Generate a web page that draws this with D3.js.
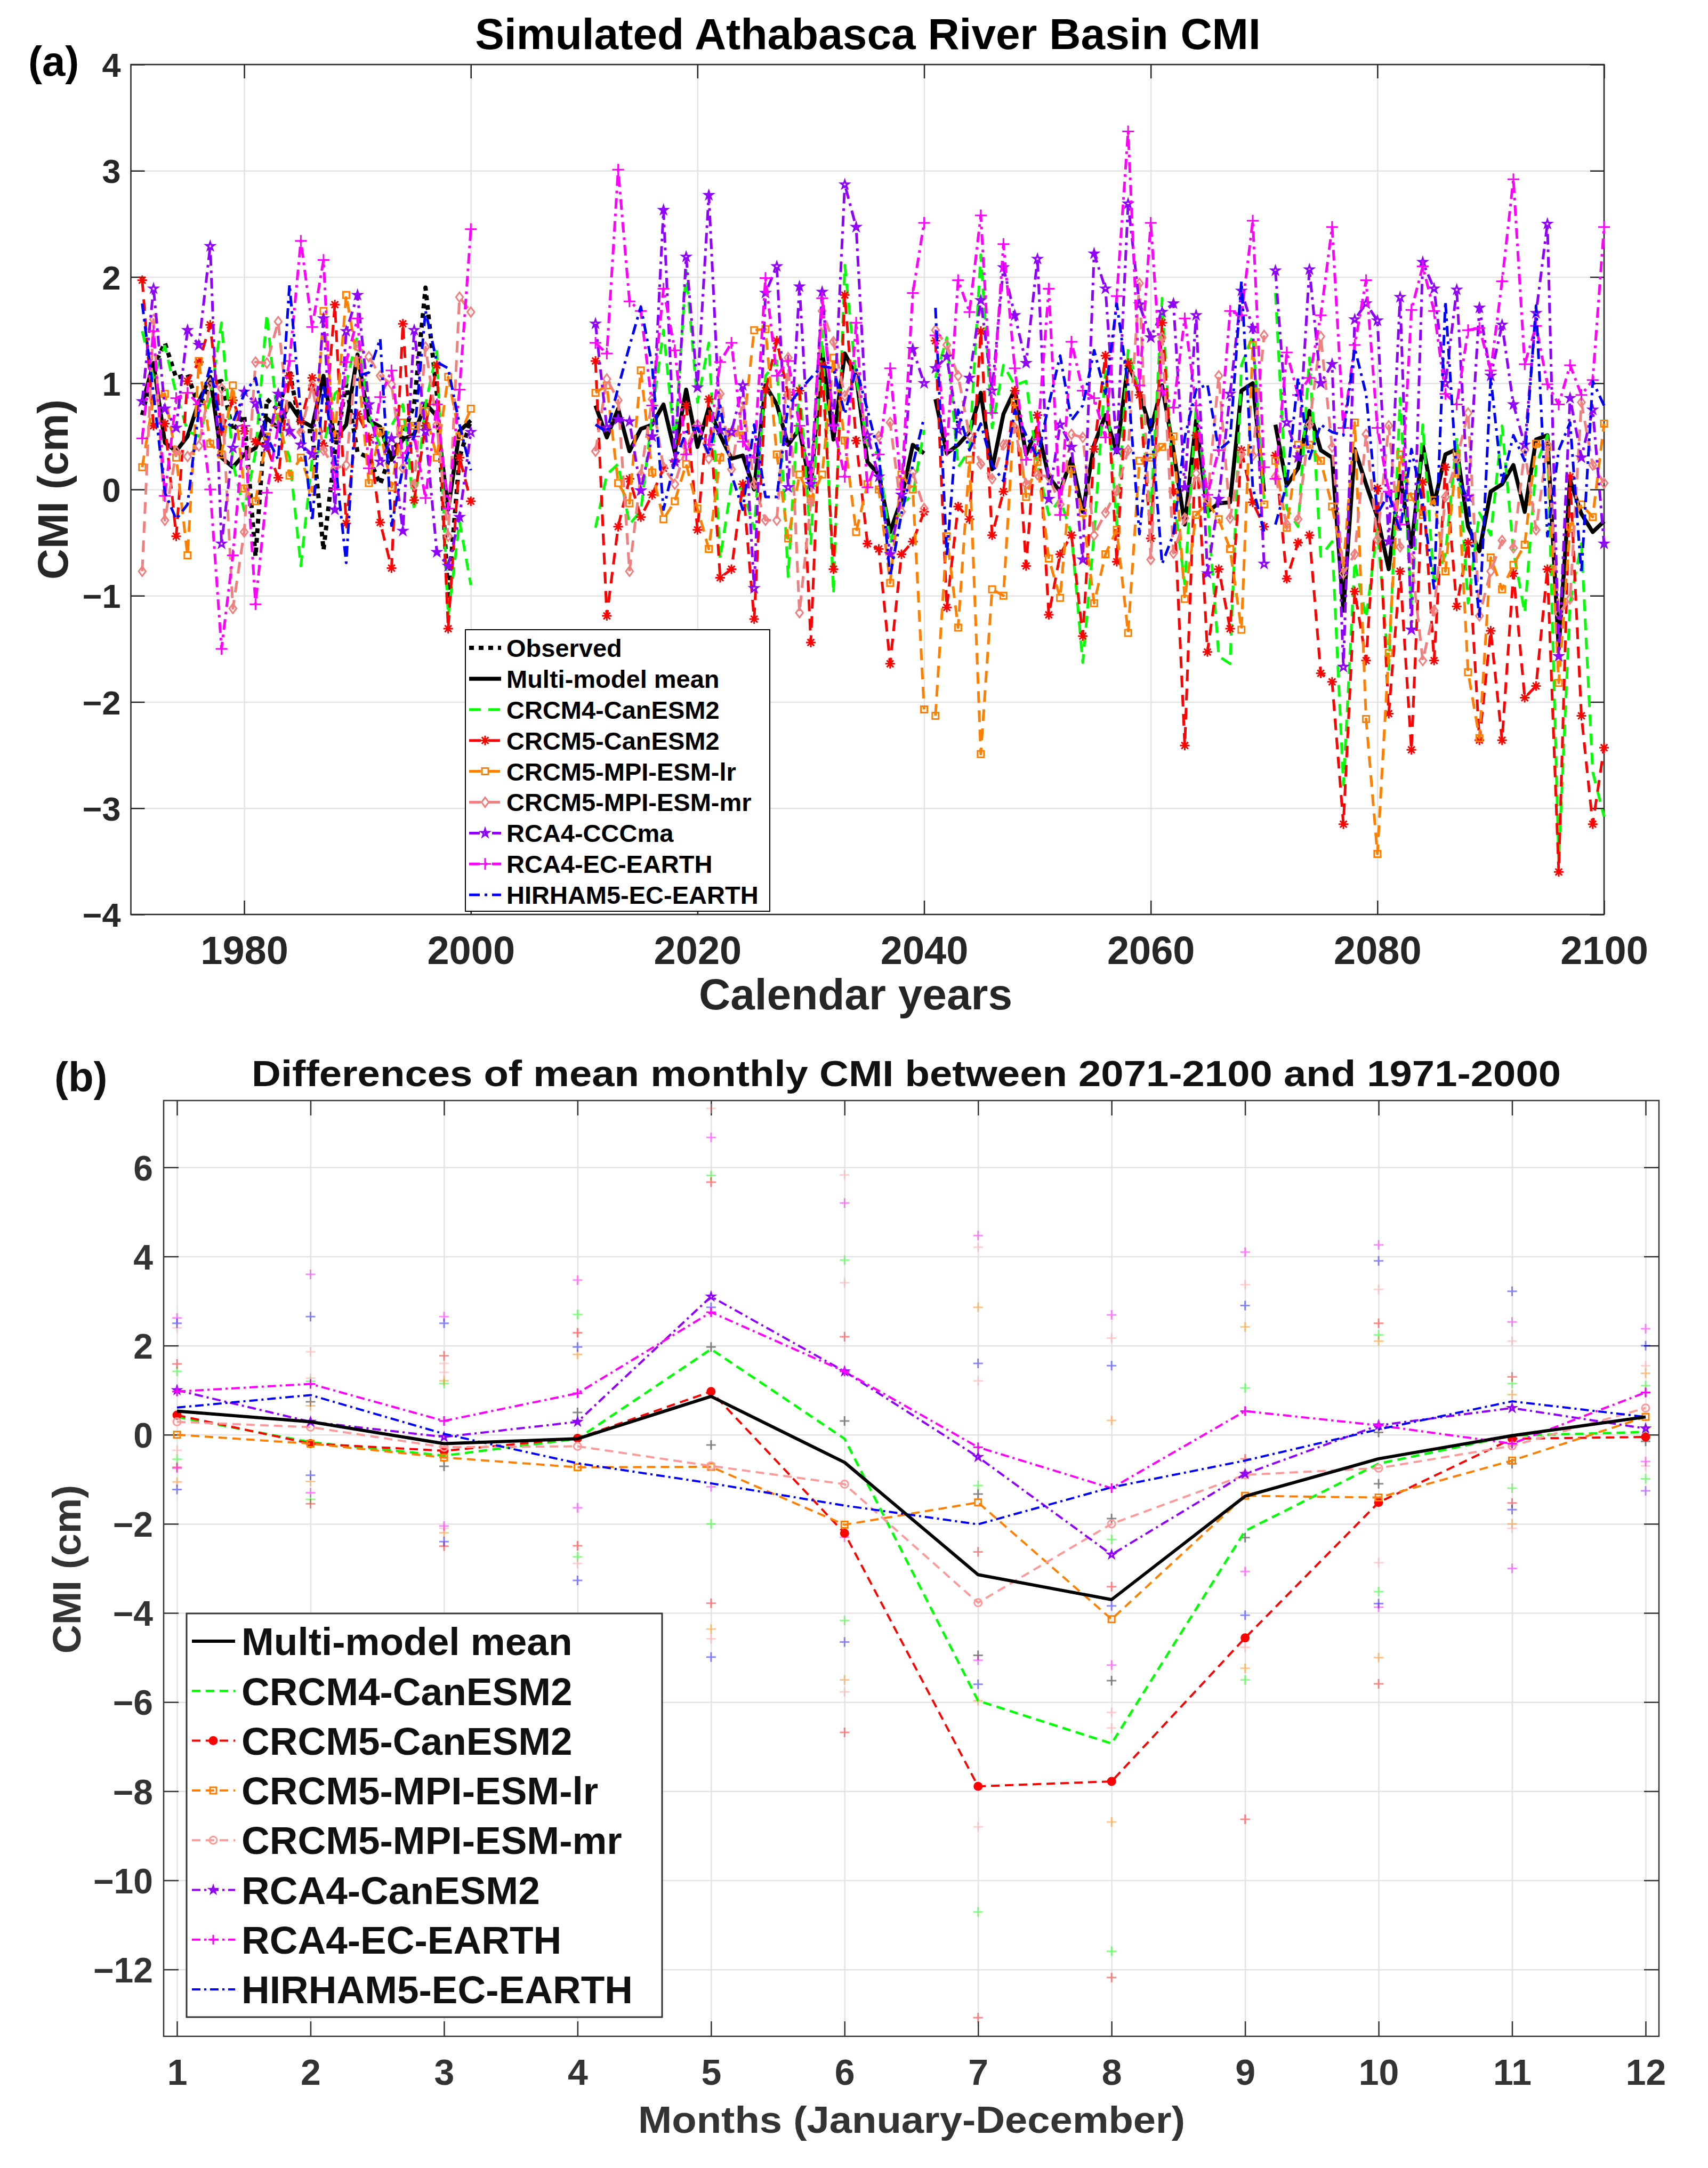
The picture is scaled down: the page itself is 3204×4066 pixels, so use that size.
<!DOCTYPE html>
<html>
<head>
<meta charset="utf-8">
<script src="https://cdn.jsdelivr.net/npm/d3@7"></script>
<style>
  body { margin: 0; background: #fff; }
  svg { display: block; }
  text { font-family: "Liberation Sans", Arial, Helvetica, sans-serif; font-weight: bold; }
</style>
</head>
<body>
<div class="canvas"></div>
<script>
// ---------- data: panel (a), annual CMI (cm) ----------
const yearsHist = d3.range(1971, 2001);
const yearsFut = d3.range(2011, 2101);
const yearsModel = yearsHist.concat(yearsFut);
const periodsA = [[1971, 2000], [2011, 2040], [2041, 2070], [2071, 2100]];
const yearTicks = [1980, 2000, 2020, 2040, 2060, 2080, 2100];
const cmiTicksA = [-4, -3, -2, -1, 0, 1, 2, 3, 4];

const observed = [0.70, 1.15, 1.38, 1.05, 1.08, 0.78, 1.00, 1.02, 0.55, 0.70,
  -0.63, 0.85, 0.75, 1.12, 0.55, 0.55, -0.57, 0.35, 0.99, 0.35,
  0.30, 0.05, 0.35, 0.50, 0.80, 1.90, 0.90, -1.00, 0.30, 0.65];

const meanA = [
  0.80, 1.19, 0.44, 0.36, 0.50, 0.83, 1.06, 0.30, 0.21, 0.33,
  0.39, 0.67, 0.58, 0.81, 0.65, 0.59, 1.07, 0.47, 0.61, 1.27,
  0.65, 0.59, 0.28, 0.47, 0.52, 0.81, 0.69, -0.19, 0.55, 0.65,
  0.79, 0.49, 0.76, 0.36, 0.57, 0.61, 0.80, 0.35, 0.94, 0.40,
  0.77, 0.51, 0.29, 0.32, 0.00, 0.98, 0.80, 0.42, 0.57, 0.00,
  1.31, 0.47, 1.28, 1.07, 0.26, 0.14, -0.40, -0.09, 0.42, 0.34,
  0.85, 0.34, 0.42, 0.54, 0.91, 0.19, 0.71, 0.94, 0.33, 0.58,
  0.12, -0.02, 0.29, -0.21, 0.42, 0.70, 0.35, 1.19, 0.91, 0.56,
  0.98, 0.37, -0.33, 0.65, -0.21, -0.13, -0.12, 0.93, 1.00, -0.02,
  0.61, 0.04, 0.20, 0.74, 0.37, 0.30, -1.14, 0.38, 0.05, -0.26,
  -0.75, 0.13, -0.54, 0.42, -0.14, 0.33, 0.38, -0.35, -0.58, -0.02,
  0.05, 0.23, -0.21, 0.47, 0.51, -1.50, 0.09, -0.23, -0.40, -0.30];

const crcm4A = [
  1.49, 1.05, 1.35, 0.90, 0.55, 0.50, 0.85, 1.57, 0.25, -0.20,
  0.35, 1.65, 0.60, 0.30, -0.72, 0.30, 0.40, 0.90, 1.00, 1.45,
  0.70, 0.40, 0.60, 0.80, -0.20, 0.80, 1.30, -1.20, -0.30, -0.90,
  -0.36, 0.14, 0.24, -0.33, -0.20, 0.70, 1.50, 0.42, 2.06, 0.82,
  1.38, -0.65, 0.05, 0.00, -0.37, 1.07, 1.21, -0.82, 1.00, -0.51,
  1.50, -0.98, 2.11, 1.05, 0.42, 0.33, -0.51, -0.14, -0.05, 0.56,
  1.05, 1.43, 0.21, 0.37, 2.21, 0.58, 1.17, 0.98, 1.02, 0.23,
  -0.24, -0.09, -0.42, -1.63, -0.42, 1.12, -0.33, 1.31, 0.91, -0.23,
  1.80, -0.05, -0.89, 0.79, -0.14, -1.57, -1.64, 1.17, 1.45, -0.09,
  1.85, -0.18, -0.35, 1.24, -0.63, -0.49, -2.78, -0.68, -1.21, -0.37,
  -1.71, 0.86, -1.10, 0.61, -0.89, -0.61, 0.49, -1.07, -0.22, -0.43,
  0.60, -0.58, -1.16, 0.23, 0.51, -3.50, -1.07, -0.51, -2.66, -3.08];

const crcm5CanA = [
  1.97, 0.60, 0.62, -0.44, 1.02, 1.20, 1.55, 0.55, 0.84, 0.55,
  0.45, 0.40, 0.11, 1.07, 0.64, 1.05, 0.41, 1.74, -0.32, 0.71,
  0.49, -0.31, -0.74, 1.56, -0.10, 0.60, 1.17, -1.31, 0.30, -0.11,
  1.21, -1.19, -0.35, 0.10, -0.26, -0.05, 0.20, 0.26, 0.79, -0.38,
  0.85, -0.83, -0.75, 0.05, -1.22, 0.93, 1.40, 0.89, 0.93, -1.44,
  1.17, -0.75, 1.83, 0.46, -0.51, -0.56, -1.64, -0.61, -0.49, -0.21,
  1.40, -1.11, -0.16, -0.28, 1.49, -0.43, -0.02, 0.93, -0.72, 0.70,
  -1.18, -0.61, -0.43, -1.38, 0.38, 1.26, -0.68, 1.19, 0.89, -0.46,
  1.57, -0.02, -2.41, 0.51, -1.53, -0.75, -1.31, 0.37, -0.12, -0.35,
  0.32, -0.84, -0.50, -0.43, -1.73, -1.81, -3.15, -0.96, -1.61, 0.01,
  -2.11, -0.77, -2.45, 0.07, -1.61, 0.21, -1.10, -0.50, -2.36, -1.33,
  -2.36, -0.79, -1.96, -1.85, -0.75, -3.60, 0.12, -2.13, -3.15, -2.43];

const crcm5LrA = [
  0.21, 0.86, 0.90, 0.30, -0.62, 1.21, 0.43, 0.33, 0.98, 0.01,
  -0.11, 0.50, 0.74, 0.13, 0.30, -0.02, 1.68, 0.50, 1.83, 1.21,
  0.06, 0.55, 0.02, 0.63, 0.60, 0.74, 0.30, 1.06, 0.50, 0.76,
  0.91, 0.98, 0.06, -0.13, 1.12, 0.16, -0.28, -0.11, 0.24, -0.18,
  -0.56, 0.30, 0.54, 0.51, 1.50, 1.51, 0.33, -0.46, 0.14, -0.09,
  0.14, 1.24, 0.46, -0.40, 0.05, 0.00, -0.88, 0.14, 0.00, -2.07,
  -2.13, -0.44, -1.30, 0.28, -2.49, -0.94, -1.00, 0.82, -0.07, 0.26,
  -0.65, -1.02, 0.19, -0.22, -1.07, -0.61, -0.38, -1.35, 0.27, 0.30,
  0.40, 0.50, -1.03, -0.24, -0.12, -0.28, -0.56, -1.32, 1.36, -0.14,
  0.27, -0.36, 0.42, 0.42, 0.27, -0.16, -0.72, 0.63, -2.16, -3.43,
  -1.54, 0.33, -0.07, -0.24, -0.10, -0.77, 0.34, -1.72, -2.34, -0.64,
  -0.94, -0.71, -0.52, 0.43, 0.40, -1.82, -0.35, -0.14, -0.26, 0.62];

const crcm5MrA = [
  -0.77, 1.60, -0.29, 0.36, 0.31, 0.41, 1.00, 0.95, -1.12, -0.40,
  1.20, 1.19, 1.58, 0.55, 0.54, 0.98, 0.37, 0.20, 0.23, 1.35,
  1.25, 1.07, 0.99, 0.20, 0.04, 1.34, 0.61, -0.44, 1.81, 1.67,
  0.36, 1.04, 0.84, -0.77, 0.14, 0.85, 0.21, 0.05, 0.40, 0.61,
  0.29, 0.90, 0.19, 0.84, 0.05, -0.29, -0.29, 1.24, -1.16, -0.12,
  1.68, 1.39, 0.88, 1.07, 0.47, 0.50, 0.63, -0.21, 0.16, -0.18,
  1.50, 1.36, 1.07, 0.51, 0.24, 0.10, 0.42, 0.58, 0.05, 0.14,
  0.12, -0.14, 0.52, 0.49, -0.43, -0.22, -0.01, 0.37, 1.94, -0.66,
  1.43, -0.60, -0.27, 0.15, -0.09, 1.07, -0.27, 0.33, 0.32, 1.45,
  0.12, -0.33, -0.28, 0.61, 1.44, 0.40, -0.79, -0.61, 0.52, -0.47,
  0.60, -0.54, -0.65, -1.61, -1.14, -0.07, 0.28, 0.72, -1.19, -0.77,
  -0.48, -0.55, 0.37, -0.38, 0.42, -1.17, -1.03, 0.82, 0.23, 0.06];

const rca4CccA = [
  0.83, 1.89, 0.76, 0.58, 1.50, 1.36, 2.29, -0.51, 0.39, 0.92,
  0.81, 0.40, 0.90, 0.55, 0.42, 0.33, 1.61, -0.19, 1.49, 1.83,
  0.80, 0.26, 0.48, -0.39, 1.50, 0.55, -0.59, -0.72, -0.26, 0.54,
  1.56, 0.58, 0.66, 0.64, -0.01, 0.50, 2.63, 0.26, 2.19, 0.96,
  2.77, 0.56, 0.54, 0.98, -0.93, 1.85, 2.10, 0.02, 1.91, 0.05,
  1.86, 0.60, 2.87, 2.47, 0.51, 0.12, -0.61, -0.05, 1.32, 1.00,
  1.14, 1.25, 0.56, 1.05, 1.78, 0.93, 2.09, 1.64, 1.19, 2.17,
  -0.09, 0.61, 0.40, -0.66, 2.22, 1.89, 0.37, 2.69, 1.74, 1.43,
  1.67, 1.75, 0.02, 1.64, -0.79, -0.09, 0.90, 1.87, 1.52, -0.70,
  2.06, 0.63, 0.30, 2.07, 1.00, 1.18, -1.67, 1.60, 1.75, 1.59,
  -0.49, 1.81, -1.32, 2.14, 1.89, 1.00, 1.88, -0.07, 1.71, 1.07,
  1.55, 0.80, 0.42, 1.66, 2.50, -1.57, 0.86, 0.30, 0.75, -0.51];

const rca4EcA = [
  0.48, 1.49, -0.06, 0.86, 0.91, 0.80, 0.00, -1.50, -0.62, 0.60,
  -1.08, -0.03, 0.60, 1.21, 2.34, 1.53, 2.16, 0.00, 1.20, 1.61,
  0.20, 0.87, 1.12, 0.30, 0.50, -0.08, 0.80, -0.18, 0.94, 2.45,
  1.38, 1.28, 3.01, 1.77, 1.68, 0.79, 1.89, 1.31, 0.33, 0.60,
  0.42, 1.20, 1.38, 0.45, 0.30, 1.99, 1.07, 1.21, 0.60, 0.10,
  1.80, 0.60, 0.12, 1.57, 0.02, 0.33, 1.14, 0.00, 1.85, 2.51,
  1.45, 0.37, 1.97, 1.67, 2.58, 0.72, 2.31, 1.14, 0.28, 0.47,
  1.89, -0.24, 1.39, 0.93, 0.86, 0.49, 1.82, 3.37, 0.98, 2.51,
  0.93, 0.77, 1.61, 0.79, -0.05, 0.37, 1.68, 1.64, 2.53, 0.21,
  0.10, 1.29, 0.89, 1.05, 1.64, 2.47, 0.58, 1.36, 1.97, 0.58,
  -0.02, -0.33, 1.69, 2.10, 1.68, 0.90, 0.80, 1.50, 1.52, 1.12,
  1.96, 2.92, 1.18, 1.54, 0.99, 0.80, 1.17, 0.89, 1.03, 2.47];

const hirhamA = [
  1.75, 0.90, -0.03, -0.28, -0.14, 0.75, 1.16, 0.56, 0.63, 0.90,
  1.05, 0.50, 0.28, 1.93, 0.70, -0.30, 0.99, 0.30, -0.69, 1.07,
  1.10, 1.42, -0.34, 0.20, 0.50, 1.68, 1.20, 1.14, 0.61, 0.18,
  0.61, 0.54, 0.96, 1.35, 1.72, 1.17, -0.19, 0.27, 0.54, 0.58,
  0.33, 0.79, 0.14, -0.19, 0.61, -0.07, -0.07, 0.79, 0.93, 1.05,
  1.16, 1.14, 0.71, 1.14, 0.75, 0.33, -0.82, -0.23, 0.23, 0.68,
  1.71, -0.63, 0.75, 0.37, 0.62, 0.23, 0.08, 0.75, 0.51, 0.30,
  0.80, 1.26, 0.65, 0.79, 1.31, 0.90, 1.75, 0.98, -0.42, 0.66,
  -0.70, -0.42, 0.49, 0.94, 0.99, 0.37, 0.46, 1.96, 0.02, -0.40,
  -0.33, 0.05, 1.05, 0.29, 0.61, 0.54, 0.51, 1.33, 0.90, -0.23,
  -0.04, -0.40, 0.38, -0.14, -0.93, 1.77, 0.12, -0.09, -1.22, 1.05,
  0.07, 0.51, 0.27, 1.73, -0.44, 0.37, 0.63, -0.79, 1.02, 0.79];

// ---------- data: panel (b), monthly differences (cm) ----------
const months = d3.range(1, 13);
const cmiTicksB = [-12, -10, -8, -6, -4, -2, 0, 2, 4, 6];

const meanB      = [0.53, 0.29, -0.20, -0.09, 0.86, -0.62, -3.14, -3.70, -1.38, -0.54, -0.02, 0.40];
const crcm4B     = [0.40, -0.17, -0.47, -0.09, 1.92, -0.09, -5.97, -6.93, -2.16, -0.65, -0.02, 0.06];
const crcm5CanB  = [0.44, -0.20, -0.36, -0.08, 0.97, -2.21, -7.89, -7.78, -4.56, -1.52, -0.09, -0.05];
const crcm5LrB   = [0.00, -0.20, -0.51, -0.73, -0.72, -2.02, -1.52, -4.14, -1.37, -1.41, -0.58, 0.40];
const crcm5MrB   = [0.29, 0.17, -0.28, -0.26, -0.70, -1.11, -3.77, -2.00, -0.90, -0.75, -0.25, 0.60];
const rca4CanB   = [1.00, 0.29, -0.05, 0.29, 3.10, 1.42, -0.50, -2.69, -0.88, 0.21, 0.60, 0.14];
const rca4EcB    = [0.97, 1.14, 0.31, 0.93, 2.75, 1.42, -0.28, -1.20, 0.53, 0.21, -0.20, 0.95];
const hirhamB    = [0.61, 0.89, 0.02, -0.64, -1.09, -1.59, -2.01, -1.18, -0.58, 0.12, 0.75, 0.40];

// spread markers [month, value]
const meanPts = [[2, 0.74], [3, -0.71], [4, 0.50], [5, 1.97], [5, -0.23], [6, 0.31], [7, -1.33], [7, -4.95],
  [8, -1.88], [8, -5.52], [9, -2.31], [10, 0.05], [10, -1.10], [11, -0.65], [12, 0.95], [12, -0.15]];
const crcm4Pts = [[1, 1.42], [1, -0.55], [2, 1.20], [2, -1.45], [3, 1.15], [4, 2.70], [4, -2.74], [5, 5.82], [5, -2.00],
  [6, 3.92], [6, -4.17], [7, -1.14], [7, -10.71], [8, -2.35], [8, -11.59], [9, 1.05], [9, -5.50], [10, 2.24], [10, -3.52],
  [11, 1.15], [11, -1.20], [12, 1.10], [12, -0.99]];
const crcm5CanPts = [[1, 1.59], [1, -0.73], [2, -1.55], [3, 1.77], [3, -2.50], [4, 2.29], [4, -2.49], [5, 5.67], [5, -3.78],
  [6, 2.20], [6, -6.68], [7, -2.63], [7, -13.08], [8, -3.41], [8, -12.18], [9, -0.54], [9, -8.63], [10, 2.50], [10, -5.59],
  [11, 1.30], [11, -1.53], [12, -0.05]];
const crcm5LrPts = [[1, -1.06], [2, 0.65], [2, -1.05], [3, 1.21], [3, -2.20], [4, 1.80], [5, -4.36], [6, -5.50],
  [7, 2.86], [7, -5.97], [8, 0.32], [8, -8.69], [9, 2.42], [9, -5.24], [10, 2.10], [10, -5.00], [11, 0.90], [11, -2.00], [12, 1.38]];
const crcm5MrPts = [[1, 2.40], [1, -0.35], [2, 1.86], [2, 1.27], [3, 1.60], [3, 1.40], [3, -2.10], [4, -2.89], [5, 7.32], [5, -4.58],
  [6, 5.83], [6, 3.41], [6, -5.77], [7, 4.21], [7, 1.21], [7, -8.80], [8, 2.17], [8, -6.23], [8, -6.58], [9, 3.37], [9, -4.77],
  [10, 3.26], [10, -2.87], [11, 2.10], [11, -2.10], [12, 1.55], [12, -0.70]];
const rca4CanPts = [[12, -1.26]];
const rca4EcPts = [[1, 2.62], [1, -0.75], [2, 3.60], [2, -1.30], [3, 2.65], [3, -2.05], [4, 3.47], [4, -1.64], [5, 6.67], [5, -1.17],
  [6, 5.20], [6, -2.30], [7, 4.47], [7, -5.06], [8, 2.69], [8, -5.17], [9, 4.10], [9, -3.07], [10, 4.26], [10, -3.87],
  [11, 2.53], [11, -3.00], [12, 2.38], [12, -0.60]];
const hirhamPts = [[1, 2.50], [1, -1.23], [2, 2.65], [2, -0.91], [3, 2.50], [3, -2.40], [4, 1.97], [4, -3.27], [5, 2.86], [5, -4.99],
  [6, -4.65], [7, 1.60], [7, -5.60], [8, 1.55], [8, -3.84], [9, 2.90], [9, -4.05], [10, 3.90], [10, -3.79], [11, 3.22], [11, -1.68], [12, 2.00]];

// ---------- styles ----------
const GREEN = '#00ff00', RED = '#ff0000', ORANGE = '#ff8000', PINK = '#f08080',
  PURPLE = '#9000ff', MAGENTA = '#ff00ff', BLUE = '#0000ff', INK = '#262626', GRID = '#e3e3e3';

const seriesA = [
  { name: 'Observed', years: yearsHist, values: observed, color: '#000', width: 8, dash: '9,9' },
  { name: 'Multi-model mean', years: yearsModel, values: meanA, color: '#000', width: 7.5, dash: null },
  { name: 'CRCM4-CanESM2', years: yearsModel, values: crcm4A, color: GREEN, width: 5, dash: '22,14' },
  { name: 'CRCM5-CanESM2', years: yearsModel, values: crcm5CanA, color: RED, width: 5, dash: '22,14', marker: 'asterisk', ms: 9 },
  { name: 'CRCM5-MPI-ESM-lr', years: yearsModel, values: crcm5LrA, color: ORANGE, width: 5, dash: '22,14', marker: 'square', ms: 6 },
  { name: 'CRCM5-MPI-ESM-mr', years: yearsModel, values: crcm5MrA, color: PINK, width: 5, dash: '22,14', marker: 'diamond', ms: 9 },
  { name: 'RCA4-CCCma', years: yearsModel, values: rca4CccA, color: PURPLE, width: 5, dash: '20,9,5,9', marker: 'star', ms: 5.5 },
  { name: 'RCA4-EC-EARTH', years: yearsModel, values: rca4EcA, color: MAGENTA, width: 5, dash: '20,9,5,9', marker: 'plus', ms: 11 },
  { name: 'HIRHAM5-EC-EARTH', years: yearsModel, values: hirhamA, color: BLUE, width: 5, dash: '20,9,5,9' }
];

const seriesB = [
  { name: 'Multi-model mean', values: meanB, pts: meanPts, color: '#000', width: 6, dash: null },
  { name: 'CRCM4-CanESM2', values: crcm4B, pts: crcm4Pts, color: GREEN, width: 4.5, dash: '16,10' },
  { name: 'CRCM5-CanESM2', values: crcm5CanB, pts: crcm5CanPts, color: RED, width: 4, dash: '16,10', marker: 'dot', ms: 7 },
  { name: 'CRCM5-MPI-ESM-lr', values: crcm5LrB, pts: crcm5LrPts, color: ORANGE, width: 4, dash: '16,10', marker: 'square', ms: 6 },
  { name: 'CRCM5-MPI-ESM-mr', values: crcm5MrB, pts: crcm5MrPts, color: '#ff9a9a', width: 4, dash: '16,10', marker: 'circle', ms: 7 },
  { name: 'RCA4-CanESM2', values: rca4CanB, pts: rca4CanPts, color: PURPLE, width: 4, dash: '16,7,4,7', marker: 'star', ms: 5 },
  { name: 'RCA4-EC-EARTH', values: rca4EcB, pts: rca4EcPts, color: MAGENTA, width: 4, dash: '16,7,4,7', marker: 'plus', ms: 9 },
  { name: 'HIRHAM5-EC-EARTH', values: hirhamB, pts: hirhamPts, color: BLUE, width: 4, dash: '16,7,4,7' }
];

function markerPath(type, r) {
  const k = r * 0.7;
  switch (type) {
    case 'plus': return `M${-r},0H${r}M0,${-r}V${r}`;
    case 'asterisk': return `M${-r},0H${r}M0,${-r}V${r}M${-k},${-k}L${k},${k}M${-k},${k}L${k},${-k}`;
    case 'diamond': return `M0,${-r}L${r * 0.75},0L0,${r}L${-r * 0.75},0Z`;
    case 'square': return `M${-r},${-r}H${r}V${r}H${-r}Z`;
    case 'star': return d3.symbol(d3.symbolStar, r * r * 2.4)();
    default: return d3.symbol(d3.symbolCircle, Math.PI * r * r)();
  }
}

function drawMarkers(g, pts, s, x, y) {
  if (!s.marker) return;
  g.selectAll(null).data(pts).join('path')
    .attr('transform', d => `translate(${x(d[0])},${y(d[1])})`)
    .attr('d', markerPath(s.marker, s.ms))
    .attr('fill', s.marker === 'dot' ? s.color : 'none')
    .attr('stroke', s.color)
    .attr('stroke-width', 3);
}

function styleLine(sel, s) {
  sel.attr('fill', 'none')
    .attr('stroke', s.color)
    .attr('stroke-width', s.width)
    .attr('stroke-dasharray', s.dash)
    .attr('stroke-linejoin', 'round');
}

// frame: grid, box, inward ticks, tick labels
function frame(g, x, y, box, xt, yt, o) {
  const w = box.right - box.left, h = box.bottom - box.top;
  const clean = s => s.select('.domain').remove();
  g.append('g').attr('transform', `translate(0,${box.bottom})`)
    .call(d3.axisBottom(x).tickValues(xt).tickSize(-h).tickFormat(''))
    .call(clean).selectAll('line').attr('stroke', GRID).attr('stroke-width', 2.5);
  g.append('g').attr('transform', `translate(${box.left},0)`)
    .call(d3.axisLeft(y).tickValues(yt).tickSize(-w).tickFormat(''))
    .call(clean).selectAll('line').attr('stroke', GRID).attr('stroke-width', 2.5);

  const bottom = g.append('g').attr('transform', `translate(0,${box.bottom})`)
    .call(d3.axisBottom(x).tickValues(xt).tickSizeInner(-o.tick).tickSizeOuter(0).tickFormat(d3.format('d')))
    .call(clean);
  const left = g.append('g').attr('transform', `translate(${box.left},0)`)
    .call(d3.axisLeft(y).tickValues(yt).tickSizeInner(-o.tick).tickSizeOuter(0))
    .call(clean);
  g.append('g').attr('transform', `translate(0,${box.top})`)
    .call(d3.axisTop(x).tickValues(xt).tickSizeInner(-o.tick).tickSizeOuter(0).tickFormat(''))
    .call(clean);
  g.append('g').attr('transform', `translate(${box.right},0)`)
    .call(d3.axisRight(y).tickValues(yt).tickSizeInner(-o.tick).tickSizeOuter(0).tickFormat(''))
    .call(clean);
  g.selectAll('.tick line').filter(function () { return this.getAttribute('stroke') !== GRID; })
    .attr('stroke', o.ink).attr('stroke-width', 2.5);

  bottom.selectAll('text').attr('y', o.xLabelY).attr('dy', null)
    .attr('font-size', o.xFont).attr('fill', o.ink);
  left.selectAll('text').attr('x', o.yLabelX).attr('dy', '0.36em')
    .attr('font-size', o.yFont).attr('fill', o.ink);
  g.selectAll('g').attr('font-family', null);

  g.append('rect').attr('x', box.left).attr('y', box.top).attr('width', w).attr('height', h)
    .attr('fill', 'none').attr('stroke', o.ink).attr('stroke-width', 2.5);
}

const svg = d3.select('.canvas')
  .append('svg')
  .attr('width', 3204)
  .attr('height', 4066)
  .style('background', 'white');

// ================= panel (a) =================
const boxA = { left: 245.5, right: 3009, top: 121, bottom: 1715 };
const xA = d3.scaleLinear().domain([1970, 2100]).range([boxA.left, boxA.right]);
const yA = d3.scaleLinear().domain([-4, 4]).range([boxA.bottom, boxA.top]);
const gA = svg.append('g');

frame(gA, xA, yA, boxA, yearTicks, cmiTicksA,
  { tick: 26, ink: INK, xFont: 74, yFont: 63, xLabelY: 93, yLabelX: -19 });

const lineA = d3.line().x(d => xA(d[0])).y(d => yA(d[1]));
seriesA.forEach(s => {
  const pts = s.years.map((yr, i) => [yr, s.values[i]]);
  const g = gA.append('g');
  periodsA.forEach(([a, b]) => {
    const seg = pts.filter(p => p[0] >= a && p[0] <= b);
    if (seg.length) g.append('path').attr('d', lineA(seg)).call(styleLine, s);
  });
  drawMarkers(g, pts, s, xA, yA);
});

svg.append('text').attr('x', 1628).attr('y', 92).attr('text-anchor', 'middle')
  .attr('font-size', 82).attr('fill', '#000').text('Simulated Athabasca River Basin CMI');
svg.append('text').attr('x', 53).attr('y', 142).attr('font-size', 78).attr('fill', '#000').text('(a)');
svg.append('text').attr('transform', 'translate(127,918) rotate(-90)').attr('text-anchor', 'middle')
  .attr('font-size', 80).attr('fill', INK).text('CMI (cm)');
svg.append('text').attr('x', 1605).attr('y', 1893).attr('text-anchor', 'middle')
  .attr('font-size', 82).attr('fill', INK).text('Calendar years');

// legend (a)
const legA = svg.append('g');
const legABox = legA.append('rect').attr('x', 873).attr('y', 1181).attr('height', 528)
  .attr('fill', 'white').attr('stroke', '#000').attr('stroke-width', 2);
let legARight = 1444;
seriesA.forEach((s, i) => {
  const yy = 1215 + i * 57.9;
  legA.append('line').attr('x1', 880).attr('x2', 940).attr('y1', yy).attr('y2', yy).call(styleLine, s);
  drawMarkers(legA, [[910, yy]], s, d => d, d => d);
  const t = legA.append('text').attr('x', 950).attr('y', yy).attr('dy', '0.36em')
    .attr('font-size', 47).attr('fill', '#000').text(s.name);
  legARight = Math.max(legARight, 950 + t.node().getComputedTextLength() + 8);
});
legABox.attr('width', legARight - 873);

// ================= panel (b) =================
const boxB = { left: 307, right: 3112, top: 2064, bottom: 3819 };
const xB = d3.scaleLinear().domain([0.9, 12.1]).range([boxB.left, boxB.right]);
const yB = d3.scaleLinear().domain([-13.5, 7.5]).range([boxB.bottom, boxB.top]);
const gB = svg.append('g');

frame(gB, xB, yB, boxB, months, cmiTicksB,
  { tick: 28, ink: '#333', xFont: 68, yFont: 66, xLabelY: 91, yLabelX: -20 });

// spread markers, faint
seriesB.forEach(s => {
  gB.append('g').selectAll('path').data(s.pts).join('path')
    .attr('transform', d => `translate(${xB(d[0])},${yB(d[1])})`)
    .attr('d', markerPath('plus', 9))
    .attr('stroke', s.color).attr('stroke-width', 3).attr('opacity', 0.45).attr('fill', 'none');
});

const lineB = d3.line().x(d => xB(d[0])).y(d => yB(d[1]));
seriesB.slice(1).concat(seriesB.slice(0, 1)).forEach(s => {
  const pts = months.map((m, i) => [m, s.values[i]]);
  const g = gB.append('g');
  g.append('path').attr('d', lineB(pts)).call(styleLine, s);
  drawMarkers(g, pts, s, xB, yB);
});

svg.append('text').attr('x', 1700).attr('y', 2037).attr('text-anchor', 'middle')
  .attr('font-size', 68).attr('fill', '#111')
  .attr('textLength', 2456).attr('lengthAdjust', 'spacingAndGlyphs')
  .text('Differences of mean monthly CMI between 2071-2100 and 1971-2000');
svg.append('text').attr('x', 102).attr('y', 2047).attr('font-size', 78).attr('fill', '#111').text('(b)');
svg.append('text').attr('transform', 'translate(151,2943) rotate(-90)').attr('text-anchor', 'middle')
  .attr('font-size', 75).attr('fill', '#333').text('CMI (cm)');
svg.append('text').attr('x', 1710).attr('y', 4000).attr('text-anchor', 'middle')
  .attr('font-size', 70).attr('fill', '#333')
  .attr('textLength', 1026).attr('lengthAdjust', 'spacingAndGlyphs')
  .text('Months (January-December)');

// legend (b)
const legB = svg.append('g');
legB.append('rect').attr('x', 350).attr('y', 3026).attr('width', 892).attr('height', 757)
  .attr('fill', 'white').attr('stroke', '#333').attr('stroke-width', 3);
seriesB.forEach((s, i) => {
  const yy = 3078 + i * 93.3;
  legB.append('line').attr('x1', 360).attr('x2', 441).attr('y1', yy).attr('y2', yy).call(styleLine, s);
  drawMarkers(legB, [[400, yy]], s, d => d, d => d);
  legB.append('text').attr('x', 453).attr('y', yy).attr('dy', '0.36em')
    .attr('font-size', 73).attr('fill', '#111').text(s.name);
});
</script>
</body>
</html>
